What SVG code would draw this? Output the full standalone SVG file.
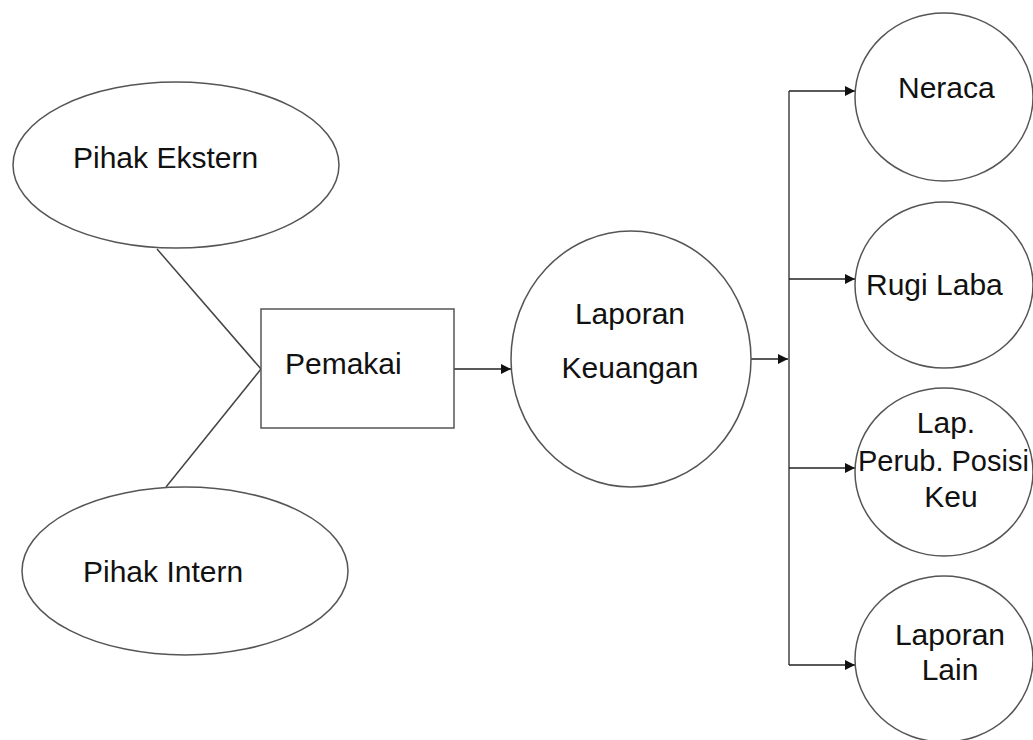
<svg xmlns="http://www.w3.org/2000/svg" width="1033" height="740" viewBox="0 0 1033 740">
<style>
.shape{fill:#fff;stroke:#555;stroke-width:1.5}
.line{fill:none;stroke:#444;stroke-width:1.5}
.arrow{fill:none;stroke:#222;stroke-width:1.5;marker-end:url(#ah)}
text{font-family:"Liberation Sans",Arial,sans-serif;font-size:30px;fill:#111}
.m{text-anchor:middle}
.s{font-size:29px}
</style>
<defs>
<marker id="ah" viewBox="0 0 10 10" refX="10" refY="5" markerWidth="10" markerHeight="10" markerUnits="userSpaceOnUse" orient="auto">
<path d="M0,0 L10,5 L0,10 Z" fill="#111"/>
</marker>
</defs>
<rect width="1033" height="740" fill="#fff"/>
<g id="connectors">
<line class="line" x1="157" y1="249" x2="261" y2="369"/>
<line class="line" x1="166" y1="487" x2="261" y2="369"/>
<line class="arrow" x1="454" y1="369" x2="511" y2="369"/>
<line class="arrow" x1="751" y1="359" x2="788" y2="359"/>
<line class="line" x1="789" y1="91" x2="789" y2="665"/>
<line class="arrow" x1="789" y1="91" x2="855" y2="91"/>
<line class="arrow" x1="789" y1="279" x2="855" y2="279"/>
<line class="arrow" x1="789" y1="468" x2="855" y2="468"/>
<line class="arrow" x1="789" y1="665" x2="855" y2="665"/>
</g>
<g id="pihak-ekstern">
<ellipse class="shape" cx="176" cy="165" rx="163" ry="83"/>
<text x="73" y="168">Pihak Ekstern</text>
</g>
<g id="pihak-intern">
<ellipse class="shape" cx="185" cy="571" rx="163" ry="84"/>
<text x="83" y="582">Pihak Intern</text>
</g>
<g id="pemakai">
<rect class="shape" x="261" y="309" width="193" height="119"/>
<text x="285" y="374">Pemakai</text>
</g>
<g id="laporan-keuangan">
<ellipse class="shape" cx="631" cy="359" rx="120" ry="128"/>
<text class="m" x="630" y="324">Laporan</text>
<text class="m" x="630" y="378">Keuangan</text>
</g>
<g id="neraca">
<ellipse class="shape" cx="944" cy="97" rx="89" ry="84"/>
<text x="898" y="98">Neraca</text>
</g>
<g id="rugi-laba">
<ellipse class="shape" cx="944" cy="285" rx="89" ry="83"/>
<text x="866" y="295">Rugi Laba</text>
</g>
<g id="lap-perub">
<ellipse class="shape" cx="944" cy="472" rx="89" ry="84"/>
<text class="m" x="946" y="433">Lap.</text>
<text class="s" x="858" y="471">Perub. Posisi</text>
<text class="m" x="951" y="507">Keu</text>
</g>
<g id="laporan-lain">
<ellipse class="shape" cx="944" cy="659" rx="89" ry="83"/>
<text class="m" x="950" y="645">Laporan</text>
<text class="m" x="950" y="680">Lain</text>
</g>
</svg>
